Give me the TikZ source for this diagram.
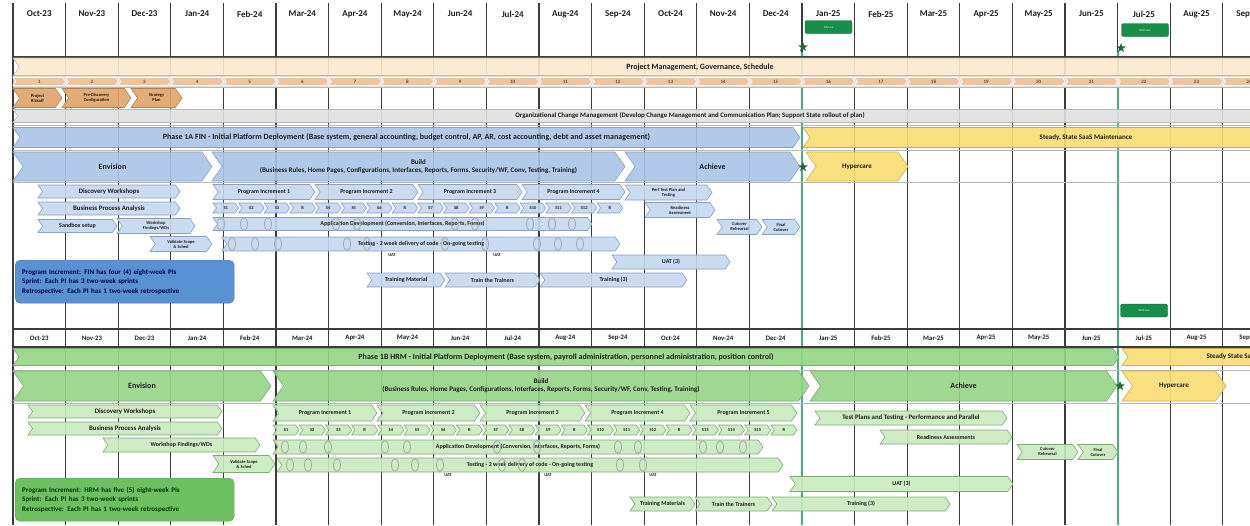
\documentclass[tikz,border=0pt]{standalone}
\usepackage{fontspec}
\setmainfont{Carlito}
\usetikzlibrary{shapes.symbols,shapes.geometric}

\definecolor{ink}{RGB}{30,30,30}
\definecolor{gridclr}{RGB}{60,60,60}
\definecolor{rowline}{RGB}{185,185,185}
\definecolor{goline}{RGB}{70,175,125}
\definecolor{pmfill}{RGB}{251,232,208}
\definecolor{numfill}{RGB}{245,192,146}
\definecolor{kickfill}{RGB}{224,162,106}
\definecolor{ocmfill}{RGB}{224,224,224}
\definecolor{finbig}{RGB}{170,197,232}
\definecolor{finlight}{RGB}{196,215,240}
\definecolor{finedge}{RGB}{135,160,198}
\definecolor{finnote}{RGB}{88,145,212}
\definecolor{hrmbig}{RGB}{148,212,134}
\definecolor{hrmlight}{RGB}{200,235,190}
\definecolor{hrmedge}{RGB}{125,172,115}
\definecolor{hrmnote}{RGB}{108,192,96}
\definecolor{steadyfill}{RGB}{250,221,112}
\definecolor{steadyedge}{RGB}{205,175,80}
\definecolor{livefill}{RGB}{24,142,74}
\definecolor{starclr}{RGB}{32,102,62}

\newcommand{\tlbar}[7]{%
  \node[#2,minimum width={(#4-#3)*1pt},minimum height={#6*1pt}] (#1) at ({(#3+#4)/2},#5) {#7};}

\begin{document}
\begin{tikzpicture}[x=1pt,y=-1pt,
    bar/.style={signal,signal from=west,signal to=east,signal pointer angle=110,
      inner sep=0pt,align=center,text=ink,fill opacity=.9,text opacity=1,line width=.6pt},
    finbar/.style={bar,fill=finlight,draw=finedge},
    finphase/.style={bar,fill=finbig,draw=finedge},
    hrmbar/.style={bar,fill=hrmlight,draw=hrmedge},
    hrmphase/.style={bar,fill=hrmbig,draw=hrmedge},
    steadybar/.style={bar,fill=steadyfill,draw=steadyedge},
    pmbar/.style={bar,fill=pmfill,draw=pmfill!80!black},
    numbar/.style={bar,fill=numfill,draw=white,font=\fontsize{5}{5}\selectfont},
    kickbar/.style={bar,fill=kickfill,draw=kickfill!80!black,font=\bfseries\fontsize{4.5}{5}\selectfont},
    ocmbar/.style={bar,fill=ocmfill,draw=rowline},
    lbl9/.style={font=\bfseries\fontsize{9}{10}\selectfont,text=ink},
    lbl8/.style={font=\bfseries\fontsize{8}{9}\selectfont,text=ink},
    lbl7/.style={font=\bfseries\fontsize{7}{8}\selectfont,text=ink},
    lbl6/.style={font=\bfseries\fontsize{6.8}{7.2}\selectfont,text=ink},
    lbl5/.style={font=\bfseries\fontsize{6}{6.5}\selectfont,text=ink},
    lbl4/.style={font=\bfseries\fontsize{4.5}{5}\selectfont,text=ink},
    oval/.style={ellipse,draw=gray!70,line width=.8pt,minimum width=7pt,minimum height=13pt,inner sep=0pt},
    livetag/.style={rounded corners=2pt,fill=livefill,draw=livefill!70!black,text=white!85!livefill,
      font=\fontsize{3}{3}\selectfont,minimum width=47pt,minimum height=13pt,inner sep=0pt},
    milestone/.style={star,star points=5,star point ratio=2.4,fill=starclr,inner sep=0pt,minimum size=10pt},
    note/.style={rounded corners=5pt,anchor=north west,align=left,inner xsep=7pt,inner ysep=5pt,
      text width=205pt,minimum height=43pt,font=\bfseries\fontsize{7}{9.5}\selectfont}]

  \useasboundingbox (0,0) rectangle (1250,525);
  \fill[white] (0,0) rectangle (1250,525);

  % Month grid
  \foreach \i in {0,...,23}
    \draw[gridclr,line width=1.2pt] ({13+52.6*\i},3) -- ({13+52.6*\i},525);
  \draw[goline,line width=1.3pt] (802,52) -- (802,525);
  \draw[goline,line width=1.3pt] (1118,52) -- (1118,525);
  \draw[gridclr,line width=1.4pt] (13,57) -- (1250,57);
  \foreach \y in {125,150,182,370,403}
    \draw[rowline,line width=.6pt] (13,\y) -- (1250,\y);
  \draw[gridclr,line width=1.2pt] (13,329) -- (1250,329);
  \draw[gridclr,line width=1.2pt] (13,347) -- (1250,347);

  % Month headers
  \foreach \m [count=\i from 0] in {Oct-23,Nov-23,Dec-23,Jan-24,Feb-24,Mar-24,Apr-24,May-24,
      Jun-24,Jul-24,Aug-24,Sep-24,Oct-24,Nov-24,Dec-24,Jan-25,Feb-25,Mar-25,Apr-25,May-25,
      Jun-25,Jul-25,Aug-25,Sep-25} {
    \node[lbl9] (mtop\i) at ({39.3+52.6*\i},14) {\m};
    \node[lbl6] (mbot\i) at ({39.3+52.6*\i},338) {\m};
  }

  % ---------------- Phase 1A FIN ----------------
  \tlbar{pm}{pmbar}{13}{1262}{67}{18}{}
  \node[lbl8] (pmtxt) at (700,67) {Project Management, Governance, Schedule};

  \node[fill=ocmfill,draw=rowline,anchor=west,minimum width=1250pt,minimum height=12pt,inner sep=0pt]
    (numrow) at (13,81.5) {};
  \foreach \i [evaluate=\i as \n using int(\i+1)] in {0,...,23}
    \node[numbar,minimum width=52.6pt,minimum height=8pt] (num\n) at ({39.3+52.6*\i},81.5) {\n};

  \tlbar{kickoff}{kickbar}{13}{62}{98}{19}{Project\\Kickoff}
  \tlbar{prediscovery}{kickbar}{62}{131}{98}{19}{Pre-Discovery\\Configuration}
  \tlbar{strategy}{kickbar}{131}{182}{98}{19}{Strategy\\Plan}

  \tlbar{ocm}{ocmbar}{13}{1262}{116}{13}{}
  \node[lbl6] (ocmtxt) at (690,116) {Organizational Change Management (Develop Change Management and Communication Plan; Support State rollout of plan)};

  \tlbar{finphase}{finphase,lbl8}{13}{800}{137.5}{20}{Phase 1A FIN - Initial Platform Deployment (Base system, general accounting, budget control, AP, AR, cost accounting, debt and asset management)}
  \tlbar{finsteady}{steadybar}{803}{1262}{137.5}{20}{}
  \node[lbl7] (finsteadytxt) at (1086,137.5) {Steady, State SaaS Maintenance};

  \tlbar{finenvision}{finphase,lbl8}{13}{212}{166.5}{29}{Envision}
  \tlbar{finbuild}{finphase,lbl7}{212}{625}{166.5}{29}{Build\\(Business Rules, Home Pages, Configurations, Interfaces, Reports, Forms, Security/WF, Conv, Testing, Training)}
  \tlbar{finachieve}{finphase,lbl8}{625}{800}{166.5}{29}{Achieve}
  \tlbar{finhyper}{steadybar,lbl7}{806}{908}{166.5}{29}{Hypercare}

  \tlbar{findisc}{finbar,lbl6}{38}{180}{191.5}{13}{Discovery Workshops}
  \tlbar{finbpa}{finbar,lbl6}{38}{180}{208.5}{13}{Business Process Analysis}
  \tlbar{finsandbox}{finbar,lbl5}{38}{117}{226}{13}{Sandbox setup}
  \tlbar{finfind}{finbar,lbl4}{117}{195}{226}{15}{Workshop\\Findings/WDs}
  \tlbar{finscope}{finbar,lbl4}{150}{212}{244}{15}{Validate Scope\\\& Sched}

  \tlbar{finpi1}{finbar,lbl5}{213}{315}{192}{15}{Program Increment 1}
  \tlbar{finpi2}{finbar,lbl5}{315}{418}{192}{15}{Program Increment 2}
  \tlbar{finpi3}{finbar,lbl5}{418}{522}{192}{15}{Program Increment 3}
  \tlbar{finpi4}{finbar,lbl5}{522}{625}{192}{15}{Program Increment 4}
  \foreach \s [count=\k from 0] in {S1,S2,S3,R,S4,S5,S6,R,S7,S8,S9,R,S10,S11,S12,R}
    \node[finbar,lbl4,minimum width=25.6pt,minimum height=10pt] (finsp\k) at ({225.8+25.6*\k},208) {\s};

  \tlbar{findev}{finbar,lbl5}{213}{592}{224}{13}{Application Development (Conversion, Interfaces, Reports, Forms)}
  \tlbar{fintest}{finbar,lbl5}{222}{620}{244}{14}{Testing - 2 week delivery of code - On-going testing}
  \foreach \x [count=\k] in {221,244,268,336,357,455,475,530,552,572}
    \node[oval] (findevo\k) at (\x,224) {};
  \foreach \x [count=\k] in {232,255,278,347,367,445,485,537,558,580}
    \node[oval] (fintesto\k) at (\x,244) {};
  \node[lbl4] (finuat1) at (392,255) {UAT};
  \node[lbl4] (finuat2) at (497,255) {UAT};

  \tlbar{finperf}{finbar,lbl4}{625}{712}{192.5}{15}{Perf Test Plan and\\Testing}
  \tlbar{finready}{finbar,lbl4}{645}{715}{210}{15}{Readiness\\Assessment}
  \tlbar{fincutreh}{finbar,lbl4}{717}{762}{227}{15}{Cutover\\Rehearsal}
  \tlbar{fincutfin}{finbar,lbl4}{762}{800}{227}{15}{Final\\Cutover}
  \tlbar{finuat}{finbar,lbl5}{612}{730}{262}{14}{UAT (3)}
  \tlbar{fintrmat}{finbar,lbl5}{367}{445}{280}{14}{Training Material}
  \tlbar{fintrain}{finbar,lbl5}{445}{540}{280}{14}{Train the Trainers}
  \tlbar{fintraining}{finbar,lbl5}{540}{687}{280}{14}{Training (3)}

  \node[note,fill=finnote,draw=finnote!80!black,text=blue!30!black] (finnotes) at (15,260)
    {Program Increment: FIN has four (4) eight-week PIs\\
     Sprint: Each PI has 3 two-week sprints\\
     Retrospective: Each PI has 1 two-week retrospective};

  % ---------------- Phase 1B HRM ----------------
  \tlbar{hrmphase}{hrmphase,lbl8}{13}{1119}{357}{17}{Phase 1B HRM - Initial Platform Deployment (Base system, payroll administration, personnel administration, position control)}
  \tlbar{hrmsteady}{steadybar}{1122}{1262}{357}{17}{}
  \node[lbl7,anchor=west] (hrmsteadytxt) at (1203,357) {Steady State SaaS Maintenance};

  \tlbar{hrmenvision}{hrmphase,lbl8}{13}{271}{386}{30}{Envision}
  \tlbar{hrmbuild}{hrmphase,lbl7}{273}{809}{386}{30}{Build\\(Business Rules, Home Pages, Configurations, Interfaces, Reports, Forms, Security/WF, Conv, Testing, Training)}
  \tlbar{hrmachieve}{hrmphase,lbl8}{810}{1117}{386}{30}{Achieve}
  \tlbar{hrmhyper}{steadybar,lbl7}{1122}{1226}{386}{30}{Hypercare}

  \tlbar{hrmdisc}{hrmbar,lbl6}{28}{222}{411.5}{13}{Discovery Workshops}
  \tlbar{hrmbpa}{hrmbar,lbl6}{28}{222}{428.5}{13}{Business Process Analysis}
  \tlbar{hrmfind}{hrmbar,lbl5}{103}{260}{445}{14}{Workshop Findings/WDs}
  \tlbar{hrmscope}{hrmbar,lbl4}{213}{275}{464}{17}{Validate Scope\\\& Sched}

  \tlbar{hrmpi1}{hrmbar,lbl5}{273}{377}{413}{16}{Program Increment 1}
  \tlbar{hrmpi2}{hrmbar,lbl5}{377}{480}{413}{16}{Program Increment 2}
  \tlbar{hrmpi3}{hrmbar,lbl5}{480}{585}{413}{16}{Program Increment 3}
  \tlbar{hrmpi4}{hrmbar,lbl5}{585}{690}{413}{16}{Program Increment 4}
  \tlbar{hrmpi5}{hrmbar,lbl5}{690}{797}{413}{16}{Program Increment 5}
  \foreach \s [count=\k from 0] in {S1,S2,S3,R,S4,S5,S6,R,S7,S8,S9,R,S10,S11,S12,R,S13,S14,S15,R}
    \node[hrmbar,lbl4,minimum width=26.2pt,minimum height=10pt] (hrmsp\k) at ({286.1+26.2*\k},430) {\s};

  \tlbar{hrmdev}{hrmbar,lbl5}{273}{763}{447}{14}{Application Development (Conversion, Interfaces, Reports, Forms)}
  \tlbar{hrmtest}{hrmbar,lbl5}{277}{783}{465}{14}{Testing - 2 week delivery of code - On-going testing}
  \foreach \x [count=\k] in {285,303,328,385,407,497,537,618,638,703,720,743}
    \node[oval] (hrmdevo\k) at (\x,447) {};
  \foreach \x [count=\k] in {290,308,337,395,415,440,502,522,620,643}
    \node[oval] (hrmtesto\k) at (\x,465) {};
  \node[lbl4] (hrmuat1) at (448,475) {UAT};
  \node[lbl4] (hrmuat2) at (548,475) {UAT};
  \node[lbl4] (hrmuat3) at (653,475) {UAT};

  \tlbar{hrmperf}{hrmbar,lbl6}{815}{1007}{418}{14}{Test Plans and Testing - Performance and Parallel}
  \tlbar{hrmready}{hrmbar,lbl5}{880}{1012}{437}{14}{Readiness Assessments}
  \tlbar{hrmcutreh}{hrmbar,lbl4}{1017}{1078}{452}{15}{Cutover\\Rehearsal}
  \tlbar{hrmcutfin}{hrmbar,lbl4}{1078}{1118}{452}{15}{Final\\Cutover}
  \tlbar{hrmuat}{hrmbar,lbl5}{790}{1013}{484}{15}{UAT (3)}
  \tlbar{hrmtrmat}{hrmbar,lbl5}{630}{695}{504}{14}{Training Materials}
  \tlbar{hrmtrain}{hrmbar,lbl5}{695}{772}{504}{14}{Train the Trainers}
  \tlbar{hrmtraining}{hrmbar,lbl5}{772}{950}{504}{14}{Training (3)}

  \node[note,fill=hrmnote,draw=hrmnote!80!black,text=green!20!black] (hrmnotes) at (15,478)
    {Program Increment: HRM has five (5) eight-week PIs\\
     Sprint: Each PI has 3 two-week sprints\\
     Retrospective: Each PI has 1 two-week retrospective};

  % Go-live markers
  \node[livetag] (finlive) at (828.5,27) {FIN Live};
  \node[livetag] (hrmlive) at (1145,30) {HRM Live};
  \node[livetag] (hrmlivelow) at (1144,310.5) {HRM Live};
  \node[milestone] (finstar) at (803,47) {};
  \node[milestone] (hrmstar) at (1121,48) {};
  \node[milestone] (finstarrow) at (803,167) {};
  \node[milestone] (hrmstarrow) at (1120,386) {};

\end{tikzpicture}
\end{document}
